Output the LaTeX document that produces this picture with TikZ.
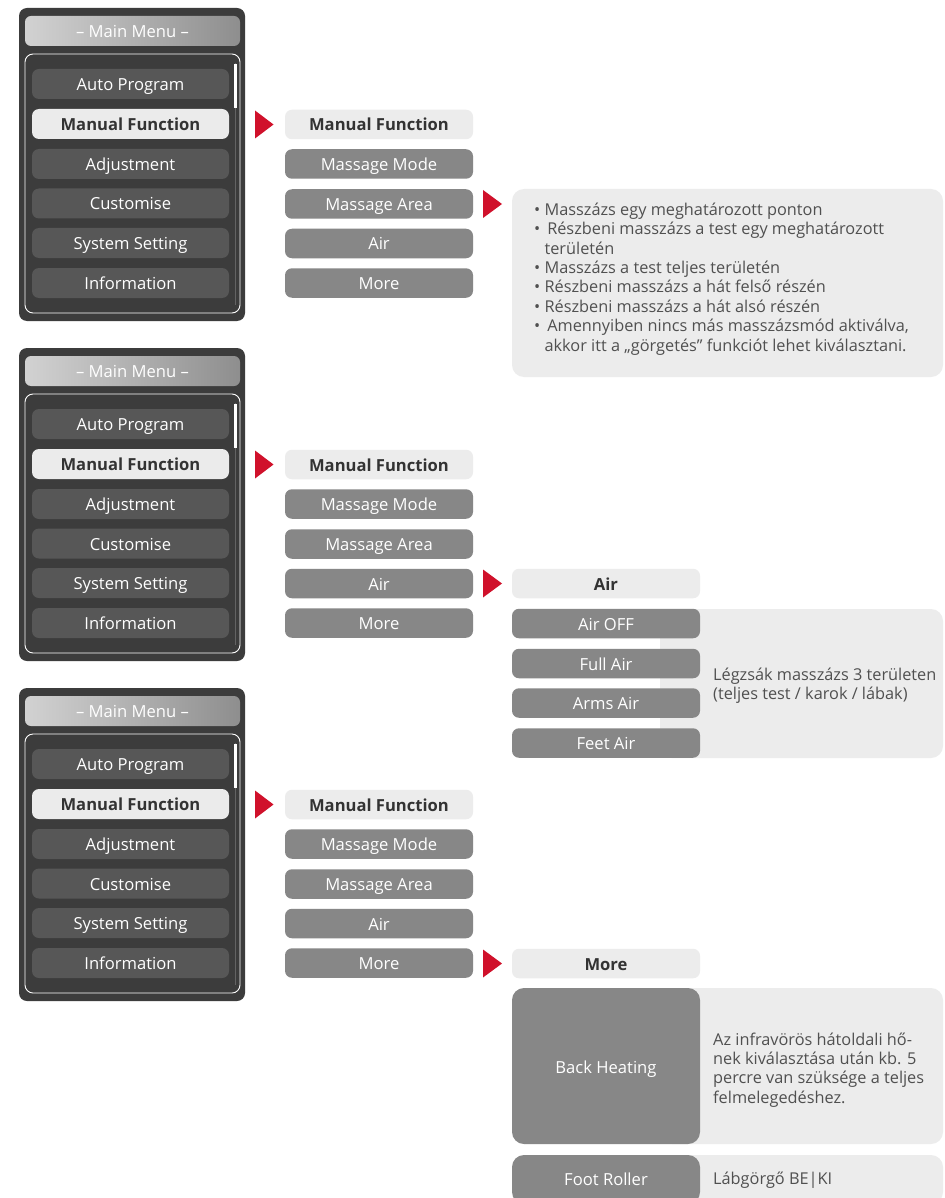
\documentclass[tikz,border=0pt]{standalone}
\usepackage{fontspec}
\setmainfont{Open Sans}
\definecolor{paneldark}{HTML}{3C3C3C}
\definecolor{btndark}{HTML}{575757}
\definecolor{sellight}{HTML}{EBEBEB}
\definecolor{seltext}{HTML}{333333}
\definecolor{subgray}{HTML}{878787}
\definecolor{boxlight}{HTML}{ECECEC}
\definecolor{desctext}{HTML}{505050}
\definecolor{mred}{HTML}{D0112B}
\definecolor{barleft}{HTML}{D2D2D2}
\definecolor{barright}{HTML}{8E8E8E}
\begin{document}
\begin{tikzpicture}[x=1pt,y=-1pt,
  btnfont/.style={font=\fontsize{16.6}{19}\selectfont, text height=13pt, text depth=0pt},
  menubtn/.style={rectangle, rounded corners=7pt, fill=btndark, text=white,
    minimum width=197pt, minimum height=30pt, inner sep=0pt, btnfont},
  selbtn/.style={menubtn, fill=sellight, text=seltext,
    font=\fontsize{16.6}{19}\selectfont\bfseries},
  subbtn/.style={rectangle, rounded corners=7pt, fill=subgray, text=white,
    minimum width=188pt, minimum height=29.5pt, inner sep=0pt, btnfont},
  subhead/.style={subbtn, fill=boxlight, text=seltext,
    font=\fontsize{16.6}{19}\selectfont\bfseries},
  plainlabel/.style={text=white, inner sep=0pt, btnfont},
  descbox/.style={fill=boxlight, rounded corners=12pt},
  desc/.style={text=desctext, inner sep=0pt, anchor=west, align=left,
    font=\fontsize{16.3}{19.4}\selectfont},
  marker/.style={fill=mred},
]
\useasboundingbox (0,0) rectangle (944,1198);
\fill[white] (0,0) rectangle (944,1198);

% ---------- three main menu panels ----------
\foreach \p/\oy in {1/0,2/340,3/680}{
  \fill[paneldark, rounded corners=8pt] (19,8+\oy) rectangle (245,321+\oy);
  \shade[left color=barleft, right color=barright, rounded corners=6pt]
    (25,16+\oy) rectangle (240,46+\oy);
  \node[plainlabel] (title\p) at (132.5,31+\oy) {– Main Menu –};
  \draw[white, line width=0.9pt, rounded corners=8pt]
    (25,54+\oy) rectangle (240,313+\oy);
  \draw[gray!60!paneldark, line width=1.2pt] (235.5,63+\oy) -- (235.5,305+\oy);
  \draw[white, line width=3pt] (235.5,64+\oy) -- (235.5,108+\oy);
  \node[menubtn] (ap\p) at (130.5,84+\oy) {Auto Program};
  \node[selbtn]  (mf\p) at (130.5,124+\oy) {Manual Function};
  \node[menubtn] (ad\p) at (130.5,164+\oy) {Adjustment};
  \node[menubtn] (cu\p) at (130.5,203.5+\oy) {Customise};
  \node[menubtn] (ss\p) at (130.5,243+\oy) {System Setting};
  \node[menubtn] (in\p) at (130.5,283+\oy) {Information};
  % arrow marker
  \fill[marker] (255,110.5+\oy) -- (273.5,124.5+\oy) -- (255,138.5+\oy) -- cycle;
  % second column
  \node[subhead] (smf\p) at (379,124.5+\oy) {Manual Function};
  \node[subbtn]  (smm\p) at (379,164+\oy) {Massage Mode};
  \node[subbtn]  (sma\p) at (379,204+\oy) {Massage Area};
  \node[subbtn]  (sai\p) at (379,243.5+\oy) {Air};
  \node[subbtn]  (smo\p) at (379,283+\oy) {More};
}

% ---------- panel 1: Massage Area description ----------
\fill[marker] (483,190) -- (502,204) -- (483,218) -- cycle;
\fill[descbox] (512,189) rectangle (943,377);
\node[desc] (areatext) at (534,279) {%
• Masszázs egy meghatározott ponton\\
• \,Részbeni masszázs a test egy meghatározott\\
\hphantom{• }területén\\
• Masszázs a test teljes területén\\
• Részbeni masszázs a hát felső részén\\
• Részbeni masszázs a hát alsó részén\\
• \,Amennyiben nincs más masszázsmód aktiválva,\\
\hphantom{• }akkor itt a „görgetés” funkciót lehet kiválasztani.};

% ---------- panel 2: Air submenu ----------
\fill[marker] (483,569.5) -- (502,583.5) -- (483,597.5) -- cycle;
\fill[descbox] (660,609) rectangle (943,758);
\node[subhead] (airh) at (606,583.5) {Air};
\node[subbtn] (airoff) at (606,623.5) {Air OFF};
\node[subbtn] (fullair) at (606,663.5) {Full Air};
\node[subbtn] (armsair) at (606,703) {Arms Air};
\node[subbtn] (feetair) at (606,743) {Feet Air};
\node[desc] (airtext) at (713,686) {Légzsák masszázs 3 területen\\(teljes test / karok / lábak)};

% ---------- panel 3: More submenu ----------
\fill[marker] (483,949.5) -- (502,963.5) -- (483,977.5) -- cycle;
\node[subhead] (moreh) at (606,963.5) {More};
\fill[descbox] (660,988) rectangle (943,1144);
\fill[subgray, rounded corners=12pt] (512,988) rectangle (700,1144);
\node[plainlabel] (backheat) at (606,1067) {Back Heating};
\node[desc] (heattext) at (713,1070) {Az infravörös hátoldali hő-\\nek kiválasztása után kb. 5\\percre van szüksége a teljes\\felmelegedéshez.};
\fill[descbox] (660,1155) rectangle (943,1204);
\fill[subgray, rounded corners=12pt] (512,1155) rectangle (700,1204);
\node[plainlabel] (footroller) at (606,1179) {Foot Roller};
\node[desc] (foottext) at (713,1180) {Lábgörgő BE|KI};
\end{tikzpicture}
\end{document}
